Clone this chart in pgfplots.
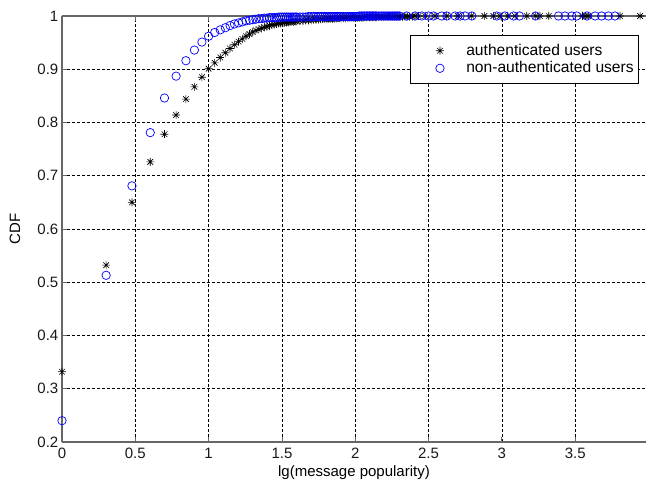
\documentclass[border=0pt]{standalone}
\usepackage{pgfplots}
\pgfplotsset{compat=1.18}
\usepackage{pgfplotstable}
\usepackage{fontspec}
\setmainfont{Liberation Sans}

% eight-armed star marker (plus and cross)
\pgfdeclareplotmark{mstar}{%
  \pgfpathmoveto{\pgfqpoint{-\pgfplotmarksize}{0pt}}%
  \pgfpathlineto{\pgfqpoint{\pgfplotmarksize}{0pt}}%
  \pgfpathmoveto{\pgfqpoint{0pt}{-\pgfplotmarksize}}%
  \pgfpathlineto{\pgfqpoint{0pt}{\pgfplotmarksize}}%
  \pgfpathmoveto{\pgfqpoint{-0.707\pgfplotmarksize}{-0.707\pgfplotmarksize}}%
  \pgfpathlineto{\pgfqpoint{0.707\pgfplotmarksize}{0.707\pgfplotmarksize}}%
  \pgfpathmoveto{\pgfqpoint{-0.707\pgfplotmarksize}{0.707\pgfplotmarksize}}%
  \pgfpathlineto{\pgfqpoint{0.707\pgfplotmarksize}{-0.707\pgfplotmarksize}}%
  \pgfusepathqstroke}

\newcommand\chartfont{\fontsize{15}{17.5}\selectfont}
\newcommand\legendfont{\fontsize{15.6}{17.5}\selectfont}

% popularity n, CDF
\pgfplotstableread{
n cdf
1 0.332
2 0.532
3 0.650
4 0.726
5 0.778
6 0.814
7 0.844
8 0.867
9 0.885
10 0.901
11 0.912
12 0.922
13 0.931
14 0.939
15 0.946
16 0.952
17 0.957
18 0.962
19 0.966
20 0.970
21 0.973
22 0.975
23 0.977
24 0.979
25 0.980
26 0.982
27 0.983
28 0.984
29 0.985
30 0.986
31 0.986
32 0.987
33 0.987
34 0.988
35 0.988
36 0.989
37 0.989
38 0.989
39 0.990
40 0.990
42 0.991
44 0.991
46 0.992
48 0.992
50 0.992
52 0.993
54 0.993
56 0.993
58 0.994
60 0.994
62 0.994
64 0.994
66 0.995
68 0.995
70 0.995
72 0.995
74 0.995
76 0.996
78 0.996
80 0.996
83 0.996
86 0.996
89 0.996
92 0.997
95 0.997
98 0.997
101 0.997
104 0.997
107 0.997
110 0.997
113 0.997
116 0.998
119 0.998
122 0.998
125 0.998
128 0.998
131 0.998
134 0.998
137 0.998
140 0.998
145 0.998
150 0.998
155 0.998
160 0.999
165 0.999
170 0.999
175 0.999
180 0.999
185 0.999
190 0.999
196 0.999
202 0.999
210 0.999
218 0.999
226 0.999
235 0.999
245 0.999
256 1.000
270 1.000
300 1.000
350 1.000
420 1.000
501 1.000
620 1.000
760 1.000
875 1.000
973 1.000
1096 1.000
1230 1.000
1479 1.000
1698 1.000
1820 1.000
2089 1.000
3548 1.000
3715 1.000
3890 1.000
6397 1.000
8770 1.000
}\authtable

\pgfplotstableread{
n cdf
1 0.240
2 0.513
3 0.681
4 0.781
5 0.846
6 0.887
7 0.916
8 0.936
9 0.951
10 0.962
11 0.969
12 0.974
13 0.978
14 0.982
15 0.985
16 0.987
17 0.989
18 0.991
19 0.992
20 0.993
21 0.994
22 0.995
23 0.995
24 0.996
25 0.996
26 0.997
27 0.997
28 0.997
29 0.997
30 0.998
31 0.998
32 0.998
33 0.998
34 0.998
35 0.998
36 0.998
37 0.998
38 0.998
39 0.998
40 0.998
42 0.998
44 0.998
46 0.998
48 0.999
50 0.999
52 0.999
54 0.999
56 0.999
58 0.999
60 0.999
62 0.999
64 0.999
66 0.999
68 0.999
70 0.999
72 0.999
74 0.999
76 0.999
78 0.999
80 0.999
83 0.999
86 0.999
89 0.999
92 0.999
95 0.999
98 0.999
101 0.999
104 0.999
107 1.000
110 1.000
113 1.000
116 1.000
119 1.000
122 1.000
125 1.000
128 1.000
131 1.000
134 1.000
137 1.000
140 1.000
145 1.000
150 1.000
155 1.000
160 1.000
165 1.000
170 1.000
175 1.000
180 1.000
185 1.000
190 1.000
195 1.000
200 1.000
224 1.000
256 1.000
284 1.000
316 1.000
341 1.000
389 1.000
421 1.000
480 1.000
519 1.000
561 1.000
624 1.000
923 1.000
1047 1.000
1202 1.000
1318 1.000
1698 1.000
2432 1.000
2692 1.000
2999 1.000
3236 1.000
3802 1.000
4325 1.000
4786 1.000
5333 1.000
5916 1.000
}\nonauthtable

\begin{document}
\chartfont
\begin{tikzpicture}[font=\chartfont]
\begin{axis}[
  scale only axis,
  width=584pt, height=426pt,
  xmin=0, xmax=3.983,
  ymin=0.2, ymax=1,
  xtick={0,0.5,...,3.5},
  ytick={0.2,0.3,...,1.0},
  /pgf/number format/assume math mode=true,
  axis x line*=box,
  axis y line*=left,
  axis line style={draw=black!60, line width=1.1pt},
  tick style={draw=black!60, line width=0.8pt},
  major tick length=5pt,
  tick align=inside,
  grid=major,
  grid style={black, line width=0.6pt, dash pattern=on 3pt off 2pt},
  xlabel={lg(message popularity)},
  ylabel={CDF},
  every axis x label/.style={at={(rel axis cs:0.5,0)}, anchor=center, yshift=-31pt, font=\chartfont},
  every axis y label/.style={at={(rel axis cs:0,0.5)}, rotate=90, anchor=center, yshift=47pt, font=\chartfont},
  tick label style={font=\chartfont, text=black!90},
  xticklabel style={yshift=-1pt},
  yticklabel style={xshift=1.5pt},
  clip=false,
  legend cell align=left,
  legend style={at={(0.988,0.955)}, anchor=north east, draw=black, line width=0.6pt,
    fill=white, inner xsep=3pt, inner ysep=6.5pt, row sep=0pt, font=\legendfont},
  legend image code/.code={%
    \path (0pt,0pt) (50pt,0pt);
    \draw[mark repeat=2,mark phase=2,#1] plot coordinates {(0pt,0pt)(26pt,0pt)(50pt,0pt)};},
]
\coordinate (ll) at (rel axis cs:0,0);
\coordinate (ur) at (rel axis cs:1,1);
\addplot[only marks, mark=mstar, mark size=4pt, black, line width=0.6pt]
  table[x expr={log10(\thisrow{n})}, y=cdf] {\authtable};
\addlegendentry{authenticated users}
\addplot[only marks, mark=o, mark size=4.2pt, blue, line width=0.7pt]
  table[x expr={log10(\thisrow{n})}, y=cdf] {\nonauthtable};
\addlegendentry{non-authenticated users}
\end{axis}
\pgfresetboundingbox
\path[use as bounding box] ([shift={(-62pt,-44pt)}]ll) rectangle ([shift={(0pt,16pt)}]ur);
\end{tikzpicture}
\end{document}
